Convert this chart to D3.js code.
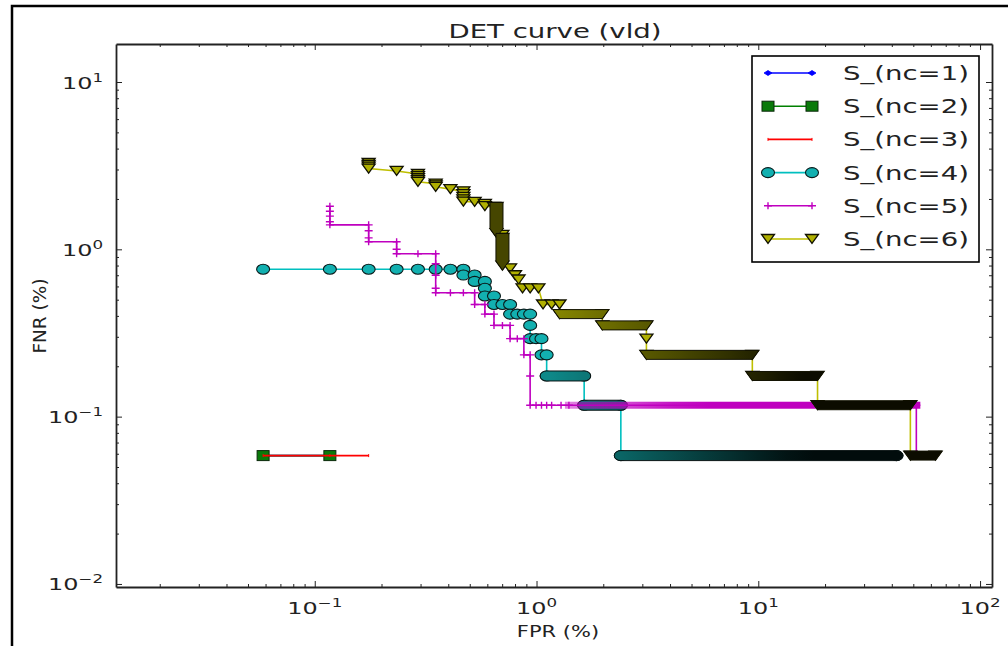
<!DOCTYPE html>
<html><head><meta charset="utf-8">
<script src="https://cdn.jsdelivr.net/npm/d3@7"></script>
<style>
body{margin:0;background:#fff}
svg{display:block}
text{font-family:"DejaVu Sans","Bitstream Vera Sans",sans-serif;fill:#222}
</style>
</head><body>
<svg id="c" width="1008" height="646"></svg>
<script>
// ---------------- data ----------------
const chartTitle = "DET curve (vld)";
const xLabel = "FPR (%)";
const yLabel = "FNR (%)";
const seriesNames = ["S_(nc=1)","S_(nc=2)","S_(nc=3)","S_(nc=4)","S_(nc=5)","S_(nc=6)"];
const xTickExps = [-1, 0, 1, 2];
const yTickExps = [-2, -1, 0, 1];
const xDomain = [0.0127, 113.2];
const yDomain = [0.00959, 16.87];

// points: [FPR %, FNR %]
const nc1Points = [[0.0585,0.0585],[0.117,0.0585]];
const nc2Points = [[0.0585,0.0585],[0.117,0.0585]];
const nc3Points = [[0.0585,0.0585],[0.117,0.0585],[0.175,0.0585]];
const nc4Points = [[0.0585,0.76],[0.117,0.76],[0.175,0.76],[0.234,0.76],[0.292,0.76],[0.351,0.76],[0.409,0.76],[0.468,0.76],
  [0.468,0.702],[0.526,0.702],[0.526,0.643],[0.585,0.643],[0.585,0.585],[0.585,0.526],[0.643,0.526],[0.643,0.468],
  [0.702,0.468],[0.76,0.468],[0.76,0.41],[0.819,0.41],[0.877,0.41],[0.936,0.41],[0.936,0.351],[0.936,0.2925],
  [0.995,0.2925],[1.053,0.2925],[1.053,0.234],[1.111,0.234],[1.111,0.175],[1.64,0.175],[1.64,0.117],[2.40,0.117],
  [2.40,0.0585],[42,0.0585]];
const nc5Points = [[0.117,1.81],[0.117,1.69],[0.117,1.58],[0.117,1.46],[0.117,1.40],
  [0.175,1.40],[0.175,1.29],[0.175,1.17],[0.175,1.11],
  [0.234,1.11],[0.234,1.00],[0.234,0.94],
  [0.292,0.94],[0.351,0.94],[0.351,0.82],[0.351,0.70],[0.351,0.585],[0.351,0.55],
  [0.409,0.55],[0.468,0.55],[0.526,0.55],[0.526,0.468],[0.585,0.468],[0.585,0.41],[0.643,0.41],[0.643,0.351],
  [0.702,0.351],[0.76,0.351],[0.76,0.2925],[0.819,0.2925],[0.877,0.2925],[0.877,0.234],[0.936,0.234],[0.936,0.175],
  [0.936,0.117],[0.995,0.117],[1.053,0.117],[1.111,0.117],[1.17,0.117],[1.29,0.117],[1.40,0.117],[51.6,0.117],
  [51.6,0.0585],[56,0.0585]];
const nc6Points = [[0.175,3.28],[0.175,3.20],[0.175,3.12],[0.175,3.04],
  [0.234,2.94],
  [0.292,2.82],[0.292,2.74],[0.292,2.66],[0.292,2.59],[0.292,2.53],
  [0.351,2.47],[0.351,2.41],[0.351,2.36],
  [0.409,2.29],
  [0.468,2.22],[0.468,2.14],[0.468,2.06],[0.468,1.99],[0.468,1.93],
  [0.526,1.92],
  [0.585,1.87],[0.585,1.81],
  [0.643,1.79],
  [0.66,1.79],[0.66,1.25],
  [0.702,1.22],
  [0.702,1.17],[0.702,0.80],
  [0.76,0.77],[0.80,0.70],[0.83,0.66],
  [0.865,0.585],[0.936,0.585],[1.02,0.585],
  [1.07,0.468],[1.17,0.468],[1.27,0.468],
  [1.27,0.41],[1.98,0.41],
  [1.98,0.351],[3.13,0.351],
  [3.13,0.2925],
  [3.13,0.234],[9.4,0.234],
  [9.4,0.175],[18.5,0.175],
  [18.5,0.117],[48.5,0.117],
  [48.5,0.0585],[63,0.0585]];

// dense runs where markers merge: [FPR from, FPR to, FNR]
const nc4Runs = [[1.111,1.64,0.175],[1.64,2.40,0.117],[2.40,42,0.0585]];
const nc5Runs = [[1.40,51.6,0.117],[51.6,56,0.0585]];
const nc6Runs = [[1.27,1.98,0.41],[1.98,3.13,0.351],[3.13,9.4,0.234],[9.4,18.5,0.175],[18.5,48.5,0.117],[48.5,63,0.0585]];
// vertical stacks of markers: [FPR, FNR from, FNR to]
const nc6Stacks = [[0.66,1.79,1.25],[0.702,1.17,0.80]];

// ---------------- drawing ----------------
const SX = 1.45;
const M = {left:116, right:992, top:44, bottom:587};
const svg = d3.select("#c");
const x = d3.scaleLog().domain(xDomain).range([M.left, M.right]);
const y = d3.scaleLog().domain(yDomain).range([M.bottom, M.top]);

svg.append("rect").attr("width",1008).attr("height",646).attr("fill","#fff");
// outer figure frame
svg.append("path").attr("d","M12,652V6H1014").attr("fill","none").attr("stroke","#000").attr("stroke-width",2.5);

const series = [
  {name:seriesNames[0], pts:nc1Points, color:"#0000ff", face:"#0000ff", marker:"diamond", runs:[], stacks:[]},
  {name:seriesNames[1], pts:nc2Points, color:"#008000", face:"#0a7a0a", marker:"square", runs:[], stacks:[]},
  {name:seriesNames[2], pts:nc3Points, color:"#ff0000", face:"#ff0000", marker:"pixel", runs:[], stacks:[]},
  {name:seriesNames[3], pts:nc4Points, color:"#00bfbf", face:"#12b0b0", marker:"circle", runs:nc4Runs, stacks:[]},
  {name:seriesNames[4], pts:nc5Points, color:"#bf00bf", face:"#bf00bf", marker:"plus", runs:nc5Runs, stacks:[]},
  {name:seriesNames[5], pts:nc6Points, color:"#bfbf00", face:"#b0b000", marker:"tri", runs:nc6Runs, stacks:nc6Stacks}
];

const defs = svg.append("defs");
defs.append("clipPath").attr("id","plotclip").append("rect")
  .attr("x",M.left).attr("y",M.top).attr("width",M.right-M.left).attr("height",M.bottom-M.top);

function drawMarker(g, type, cx, cy, color, face){
  if(type==="circle"){
    g.append("ellipse").attr("cx",cx).attr("cy",cy).attr("rx",6.5).attr("ry",5)
      .attr("fill",face).attr("stroke","#0a1a1a").attr("stroke-width",1.1);
  } else if(type==="square"){
    g.append("rect").attr("x",cx-6).attr("y",cy-5).attr("width",12).attr("height",10)
      .attr("fill",face).attr("stroke","#0a2a0a").attr("stroke-width",1);
  } else if(type==="tri"){
    g.append("path").attr("d",`M${cx-6.5},${cy-4.5}H${cx+6.5}L${cx},${cy+4.5}Z`)
      .attr("fill",face).attr("stroke","#111100").attr("stroke-width",1.3);
  } else if(type==="plus"){
    g.append("path").attr("d",`M${cx-4},${cy}H${cx+4}M${cx},${cy-3.5}V${cy+3.5}`)
      .attr("stroke",color).attr("stroke-width",1.4).attr("fill","none");
  } else if(type==="diamond"){
    g.append("path").attr("d",`M${cx-4},${cy}L${cx},${cy-2.5}L${cx+4},${cy}L${cx},${cy+2.5}Z`)
      .attr("fill",color).attr("stroke",color).attr("stroke-width",0.8);
  } else if(type==="pixel"){
    g.append("rect").attr("x",cx-0.5).attr("y",cy-1.5).attr("width",1).attr("height",3).attr("fill",color);
  }
}

// density of merged markers -> darkness (more points per pixel at higher FPR on a log axis)
const darkness = f => Math.max(0.15, Math.min(0.93, 0.3 + 0.62*Math.log10(f/1.5)));
const opacity = f => Math.max(0.35, Math.min(1, 0.35 + 0.65*Math.log10(f)/Math.log10(5)));
let gradId = 0;
function runGradient(s, f0, f1){
  const id = "g"+(gradId++);
  const lg = defs.append("linearGradient").attr("id",id).attr("gradientUnits","userSpaceOnUse")
    .attr("x1",x(f0)).attr("x2",x(f1)).attr("y1",0).attr("y2",0);
  const l0 = Math.log10(f0), l1 = Math.log10(f1);
  d3.range(0,1.0001,0.1).forEach(t=>{
    const f = Math.pow(10, l0 + t*(l1-l0));
    const st = lg.append("stop").attr("offset",t);
    if(s.marker==="plus"){
      st.attr("stop-color",s.color).attr("stop-opacity",opacity(f));
    } else {
      st.attr("stop-color",d3.interpolateRgb(s.face,"#000")(darkness(f)));
    }
  });
  return "url(#"+id+")";
}

const plot = svg.append("g").attr("clip-path","url(#plotclip)");
const line = d3.line().x(d=>x(d[0])).y(d=>y(d[1]));

series.forEach(s=>{
  const g = plot.append("g");
  g.append("path").attr("d",line(s.pts)).attr("fill","none").attr("stroke",s.color)
    .attr("stroke-width", 1.6);
  s.pts.forEach(p=>drawMarker(g, s.marker, x(p[0]), y(p[1]), s.color, s.face));
  s.stacks.forEach(([f,v0,v1])=>{
    const cx=x(f), ya=y(v0), yb=y(v1);
    g.append("path").attr("d",`M${cx-6.5},${ya-4.5}H${cx+6.5}V${yb-4.5}L${cx},${yb+4.5}L${cx-6.5},${yb-4.5}Z`)
      .attr("fill",d3.interpolateRgb(s.face,"#000")(0.6)).attr("stroke","#111100").attr("stroke-width",1);
  });
  s.runs.forEach(([f0,f1,v])=>{
    const x0=x(f0), x1=x(f1), yy=y(v);
    const fill = runGradient(s,f0,f1);
    if(s.marker==="tri"){
      g.append("path").attr("d",`M${x0-6.5},${yy-4.5}H${x1+6.5}L${x1},${yy+4.5}H${x0}Z`)
        .attr("fill",fill).attr("stroke","#111100").attr("stroke-width",1);
    } else if(s.marker==="circle"){
      g.append("rect").attr("x",x0-6.5).attr("y",yy-5).attr("width",x1-x0+13).attr("height",10)
        .attr("rx",6.5).attr("ry",5).attr("fill",fill).attr("stroke","#0a1414").attr("stroke-width",1);
    } else if(s.marker==="plus"){
      g.append("rect").attr("x",x0-4).attr("y",yy-3.5).attr("width",x1-x0+8).attr("height",7).attr("fill",fill);
    }
  });
});

// axes (inward ticks on all four sides)
const xMajor = xTickExps.map(e=>Math.pow(10,e));
const yMajor = yTickExps.map(e=>Math.pow(10,e));
const isPow = v => Math.abs(Math.log10(v)-Math.round(Math.log10(v)))<1e-9;
const xMinor = x.ticks().filter(v=>!isPow(v));
const yMinor = y.ticks().filter(v=>!isPow(v));

function axis(gen, scale, major, minor, tr){
  const g = svg.append("g").attr("transform",tr);
  g.call(gen(scale).tickValues(minor).tickSize(-3).tickSizeOuter(0).tickFormat(""));
  g.select(".domain").remove();
  const g2 = svg.append("g").attr("transform",tr);
  g2.call(gen(scale).tickValues(major).tickSize(-6).tickSizeOuter(0).tickFormat(""));
  [g,g2].forEach(gg=>{
    gg.selectAll(".tick line").attr("stroke","#222").attr("stroke-width",1);
    gg.selectAll(".domain").attr("stroke","#222").attr("stroke-width",1.8);
  });
}
axis(d3.axisBottom, x, xMajor, xMinor, `translate(0,${M.bottom})`);
axis(d3.axisTop, x, xMajor, xMinor, `translate(0,${M.top})`);
axis(d3.axisLeft, y, yMajor, yMinor, `translate(${M.left},0)`);
axis(d3.axisRight, y, yMajor, yMinor, `translate(${M.right},0)`);

function powLabel(exp, px, py, anchor){
  const t = svg.append("text").attr("transform",`translate(${px},${py}) scale(${SX},1)`)
    .attr("text-anchor",anchor).attr("font-size",16.5);
  t.append("tspan").text("10");
  t.append("tspan").attr("dy",-7).attr("font-size",11.5).text(exp<0 ? "\u2212"+(-exp) : String(exp));
}
xTickExps.forEach(e=>powLabel(e, x(Math.pow(10,e)), 614, "middle"));
yTickExps.forEach(e=>powLabel(e, 103, y(Math.pow(10,e))+6.5, "end"));

// title and axis labels
svg.append("text").attr("transform",`translate(555,38) scale(${SX},1)`).attr("text-anchor","middle")
  .attr("font-size",19).text(chartTitle);
svg.append("text").attr("transform",`translate(558,637) scale(1.4,1)`).attr("text-anchor","middle")
  .attr("font-size",15).text(xLabel);
svg.append("text").attr("transform",`translate(46,316) rotate(-90)`).attr("text-anchor","middle")
  .attr("font-size",18.5).text(yLabel);

// legend
const lg = svg.append("g");
lg.append("rect").attr("x",752).attr("y",56).attr("width",227).attr("height",206)
  .attr("fill","#fff").attr("stroke","#000").attr("stroke-width",1.6);
series.forEach((s,i)=>{
  const ly = 73 + i*33.2;
  lg.append("line").attr("x1",768).attr("x2",812).attr("y1",ly).attr("y2",ly)
    .attr("stroke",s.color).attr("stroke-width",1.6);
  drawMarker(lg, s.marker, 768, ly, s.color, s.face);
  drawMarker(lg, s.marker, 812, ly, s.color, s.face);
  lg.append("text").attr("transform",`translate(843,${ly+7}) scale(${SX},1)`)
    .attr("font-size",19).text(s.name);
});
</script>
</body></html>
